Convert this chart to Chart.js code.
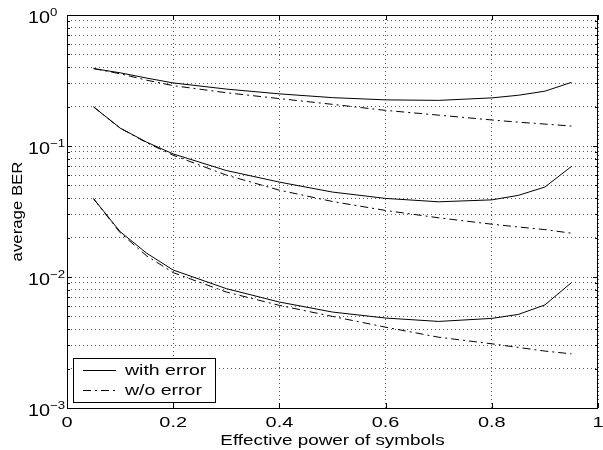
<!DOCTYPE html>
<html>
<head>
<meta charset="utf-8">
<script src="https://cdn.jsdelivr.net/npm/chart.js@4/dist/chart.umd.min.js"></script>
<style>
  body { margin: 0; background: #fff; }
  #wrap { width: 603px; height: 450px; }
</style>
</head>
<body>
<div id="wrap"><canvas id="chart" width="603" height="450"></canvas></div>
<script>
// Effective power of symbols (x) for every curve
const xValues = [0.05, 0.1, 0.15, 0.2, 0.3, 0.4, 0.5, 0.6, 0.7, 0.8, 0.85, 0.9, 0.95];

// average BER
const topWith     = [0.390, 0.362, 0.330, 0.303, 0.272, 0.250, 0.234, 0.225, 0.223, 0.233, 0.244, 0.262, 0.306];
const topWithout  = [0.390, 0.356, 0.318, 0.289, 0.255, 0.230, 0.208, 0.187, 0.172, 0.158, 0.152, 0.147, 0.142];
const midWith     = [0.199, 0.137, 0.107, 0.087, 0.065, 0.053, 0.0445, 0.0398, 0.0375, 0.0388, 0.0420, 0.0486, 0.0698];
const midWithout  = [0.199, 0.137, 0.106, 0.085, 0.060, 0.0460, 0.0377, 0.0322, 0.0283, 0.0253, 0.0241, 0.0230, 0.0216];
const lowWith     = [0.0396, 0.0222, 0.0152, 0.0113, 0.00815, 0.00644, 0.00540, 0.00486, 0.00458, 0.00483, 0.00518, 0.00612, 0.00906];
const lowWithout  = [0.0396, 0.0218, 0.0145, 0.0108, 0.00768, 0.00607, 0.00500, 0.00414, 0.00347, 0.00309, 0.00290, 0.00272, 0.00259];

const legendLabels = ['with error', 'w/o error'];

// ticks
const xTickValues = [0, 0.2, 0.4, 0.6, 0.8, 1];
const xTickLabels = ['0', '0.2', '0.4', '0.6', '0.8', '1'];
const yTickValues = [0.001, 0.01, 0.1, 1];
const yTickExponents = ['\u22123', '\u22122', '\u22121', '0'];
const yMinorMantissas = [2, 3, 4, 5, 6, 7, 8, 9];

const xTitle = 'Effective power of symbols';
const yTitle = 'average BER';

// all grid values on the log axis (decades + minor)
const yGridValues = [];
yTickValues.forEach((v, i) => {
    yGridValues.push(v);
    if (i < yTickValues.length - 1) {
        yMinorMantissas.forEach(m => yGridValues.push(m * v));
    }
});

const FONT = '"Liberation Sans", Arial, Helvetica, sans-serif';
const SOLID = [];
const DASHDOT = [8, 4, 2, 4];

function toPoints(ys) {
    return xValues.map((x, i) => ({ x: x, y: ys[i] }));
}

function makeSet(label, ys, dash) {
    return {
        label: label,
        data: toPoints(ys),
        borderColor: '#000',
        borderWidth: 1,
        borderDash: dash,
        pointRadius: 0,
        tension: 0,
        fill: false
    };
}

// draw text stretched horizontally like the original figure
function stretchText(ctx, text, x, y, sx, align, font) {
    ctx.save();
    ctx.font = font;
    ctx.translate(x, y);
    ctx.scale(sx, 1);
    ctx.textAlign = align;
    ctx.textBaseline = 'alphabetic';
    ctx.fillText(text, 0, 0);
    ctx.restore();
}

const matlabAxes = {
    id: 'matlabAxes',
    afterDraw(chart) {
        const ctx = chart.ctx;
        const a = chart.chartArea;
        const xs = chart.scales.x;
        const ys = chart.scales.y;
        ctx.save();
        ctx.fillStyle = '#000';
        ctx.strokeStyle = '#000';
        ctx.lineWidth = 1;
        ctx.setLineDash([]);

        // box
        ctx.strokeRect(Math.round(a.left) + 0.5, Math.round(a.top) + 0.5,
            Math.round(a.right - a.left) - 1, Math.round(a.bottom - a.top));

        // inward ticks
        ctx.beginPath();
        xTickValues.forEach(v => {
            const px = Math.round(xs.getPixelForValue(v)) + 0.5;
            ctx.moveTo(px, a.bottom); ctx.lineTo(px, a.bottom - 5);
            ctx.moveTo(px, a.top); ctx.lineTo(px, a.top + 5);
        });
        yGridValues.forEach(v => {
            const py = Math.round(ys.getPixelForValue(v)) + 0.5;
            const len = yTickValues.includes(v) ? 5 : 3;
            ctx.moveTo(a.left, py); ctx.lineTo(a.left + len, py);
            ctx.moveTo(a.right, py); ctx.lineTo(a.right - len, py);
        });
        ctx.stroke();

        // x tick labels
        xTickValues.forEach((v, i) => {
            stretchText(ctx, xTickLabels[i], xs.getPixelForValue(v), 427, 1.33, 'center', '15px ' + FONT);
        });

        // y tick labels: 10 with raised exponent
        yTickValues.forEach((v, i) => {
            const py = ys.getPixelForValue(v);
            stretchText(ctx, '10', 28, py + 8, 1.24, 'left', '16px ' + FONT);
            stretchText(ctx, yTickExponents[i], 50, py + 1, 1.2, 'left', '11px ' + FONT);
        });

        // axis titles
        stretchText(ctx, xTitle, (a.left + a.right) / 2, 445, 1.26, 'center', '15px ' + FONT);
        ctx.save();
        ctx.translate(22, (a.top + a.bottom) / 2);
        ctx.rotate(-Math.PI / 2);
        stretchText(ctx, yTitle, 0, 0, 1.2, 'center', '14px ' + FONT);
        ctx.restore();

        // legend box
        const lx = 73, ly = 358, lw = 142, lh = 44;
        ctx.fillStyle = '#fff';
        ctx.fillRect(lx, ly, lw, lh);
        ctx.strokeRect(lx + 0.5, ly + 0.5, lw, lh);
        ctx.fillStyle = '#000';
        const dashes = [SOLID, DASHDOT];
        legendLabels.forEach((lab, i) => {
            const rowY = ly + 12 + i * 20;
            ctx.beginPath();
            ctx.setLineDash(dashes[i]);
            ctx.moveTo(83, rowY + 0.5);
            ctx.lineTo(116, rowY + 0.5);
            ctx.stroke();
            ctx.setLineDash([]);
            stretchText(ctx, lab, 125, rowY + 5, 1.3, 'left', '15px ' + FONT);
        });
        ctx.restore();
    }
};

const ctx = document.getElementById('chart').getContext('2d');
new Chart(ctx, {
    type: 'line',
    data: {
        datasets: [
            makeSet(legendLabels[0], topWith, SOLID),
            makeSet(legendLabels[1], topWithout, DASHDOT),
            makeSet(legendLabels[0], midWith, SOLID),
            makeSet(legendLabels[1], midWithout, DASHDOT),
            makeSet(legendLabels[0], lowWith, SOLID),
            makeSet(legendLabels[1], lowWithout, DASHDOT)
        ]
    },
    options: {
        responsive: false,
        animation: false,
        devicePixelRatio: 1,
        layout: { padding: { left: 0, right: 5, top: 15, bottom: 0 } },
        plugins: {
            legend: { display: false },
            tooltip: { enabled: false }
        },
        scales: {
            x: {
                type: 'linear',
                min: 0,
                max: 1,
                afterBuildTicks: scale => { scale.ticks = xTickValues.map(v => ({ value: v })); },
                afterFit: scale => { scale.height = 42; },
                ticks: { display: false },
                grid: { color: '#555', lineWidth: 1, drawTicks: false },
                border: { display: false, dash: [1, 3] }
            },
            y: {
                type: 'logarithmic',
                min: 0.001,
                max: 1,
                afterBuildTicks: scale => { scale.ticks = yGridValues.map(v => ({ value: v })); },
                afterFit: scale => { scale.width = 67; },
                ticks: { display: false },
                grid: { color: '#555', lineWidth: 1, drawTicks: false },
                border: { display: false, dash: [1, 3] }
            }
        }
    },
    plugins: [matlabAxes]
});
</script>
</body>
</html>
